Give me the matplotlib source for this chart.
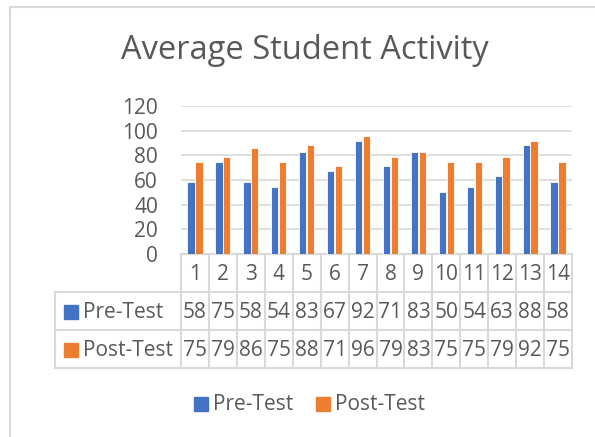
import matplotlib
matplotlib.use("Agg")
import matplotlib.pyplot as plt
from matplotlib.patches import Rectangle
from matplotlib.lines import Line2D
from matplotlib.transforms import blended_transform_factory

plt.rcParams['font.family'] = ['Open Sans', 'DejaVu Sans']

categories = ['1', '2', '3', '4', '5', '6', '7', '8', '9', '10', '11', '12', '13', '14']
pre_test = [58, 75, 58, 54, 83, 67, 92, 71, 83, 50, 54, 63, 88, 58]
post_test = [75, 79, 86, 75, 88, 71, 96, 79, 83, 75, 75, 79, 92, 75]
series_names = ['Pre-Test', 'Post-Test']
y_ticks = [0, 20, 40, 60, 80, 100, 120]

BLUE = '#4472C4'
ORANGE = '#ED7D31'
TXT = '#595959'
GRID = '#D9D9D9'

W, H = 595, 437
fig = plt.figure(figsize=(W / 100, H / 100), dpi=100)


def fx(px):
    return px / W


def fy(py):
    return 1 - py / H


# outer chart border
fig.add_artist(Line2D([fx(10), 1], [fy(7), fy(7)], color=GRID, lw=1.5))
fig.add_artist(Line2D([fx(10), fx(10)], [fy(7), 0], color=GRID, lw=1.5))

fig.text(fx(305), fy(59), 'Average Student Activity', ha='center', va='baseline',
         fontsize=23.5, color=TXT)

ax = fig.add_axes([fx(181), fy(254), fx(572) - fx(181), fy(106) - fy(254)])
n = len(categories)
x = list(range(n))
bw = 0.26
ax.bar([i - 0.14 for i in x], pre_test, width=bw, color=BLUE, edgecolor='white', lw=0.6, zorder=3)
ax.bar([i + 0.14 for i in x], post_test, width=bw, color=ORANGE, edgecolor='white', lw=0.6, zorder=3)
ax.set_xlim(-0.5, n - 0.5)
ax.set_ylim(0, 120)
ax.set_yticks(y_ticks)
ax.set_yticklabels([str(v) for v in y_ticks], fontsize=15, color=TXT)
ax.tick_params(axis='y', length=0, pad=16.5)
ax.set_xticks([])
ax.grid(axis='y', color=GRID, lw=1.2, zorder=0)
for s in ax.spines.values():
    s.set_visible(False)

# data table under the plot
tr = blended_transform_factory(ax.transData, fig.transFigure)
rows_y = [254, 292, 330, 368]
left_x = -0.5 - (181 - 55) / ((572 - 181) / n)
for i, ry in enumerate(rows_y):
    x0 = -0.5 if i == 0 else left_x
    ax.add_artist(Line2D([x0, n - 0.5], [fy(ry), fy(ry)], transform=tr, color=GRID,
                         lw=1.5, clip_on=False))
for k in range(n + 1):
    ax.add_artist(Line2D([k - 0.5, k - 0.5], [fy(254), fy(368)], transform=tr, color=GRID,
                         lw=1.5, clip_on=False))
ax.add_artist(Line2D([left_x, left_x], [fy(292), fy(368)], transform=tr, color=GRID,
                     lw=1.5, clip_on=False))

for i, c in enumerate(categories):
    ax.text(i, fy(274), c, transform=tr, ha='center', va='center', fontsize=15, color=TXT)
for r, (name, vals, col) in enumerate(zip(series_names, [pre_test, post_test], [BLUE, ORANGE])):
    cy = (rows_y[r + 1] + rows_y[r + 2]) / 2 + 1
    for i, v in enumerate(vals):
        ax.text(i, fy(cy), str(v), transform=tr, ha='center', va='center', fontsize=15, color=TXT)
    fig.add_artist(Rectangle((fx(64), fy(cy + 7)), fx(14), fy(0) - fy(14), color=col))
    fig.text(fx(83), fy(cy), name, ha='left', va='center', fontsize=15, color=TXT)

# legend
for lx, name, col in [(194, series_names[0], BLUE), (316, series_names[1], ORANGE)]:
    fig.add_artist(Rectangle((fx(lx), fy(411)), fx(14), fy(0) - fy(14), color=col))
    fig.text(fx(lx + 19), fy(404), name, ha='left', va='center', fontsize=15, color=TXT)

fig.savefig('out.png', dpi=100)
